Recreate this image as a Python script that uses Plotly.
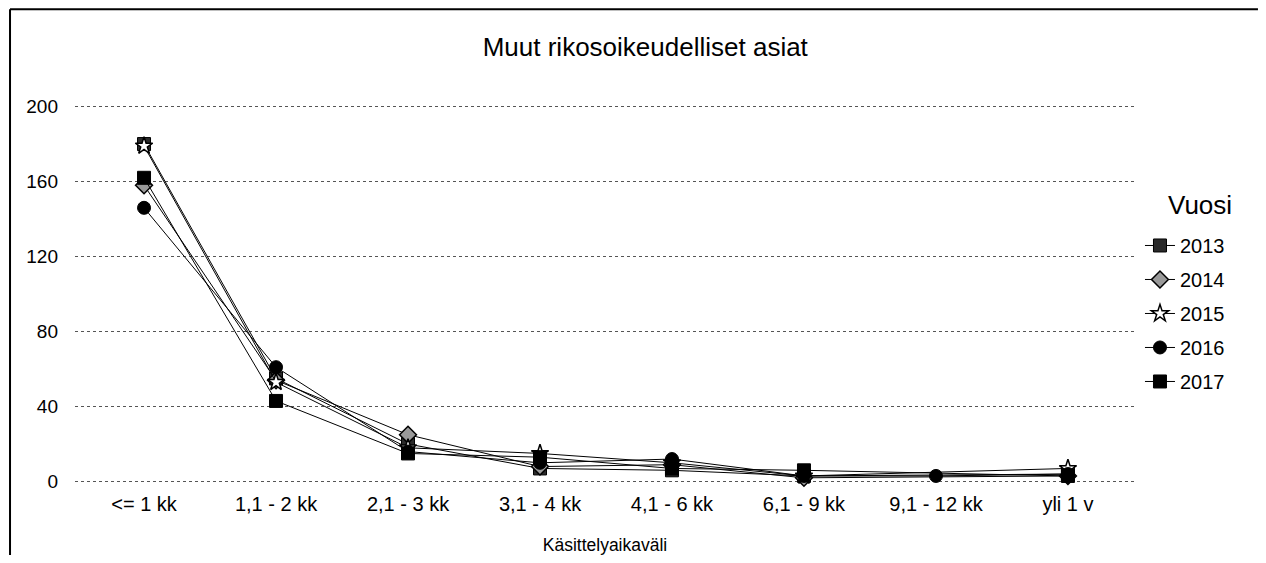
import plotly.graph_objects as go

categories = ["<= 1 kk", "1,1 - 2 kk", "2,1 - 3 kk", "3,1 - 4 kk",
              "4,1 - 6 kk", "6,1 - 9 kk", "9,1 - 12 kk", "yli 1 v"]

v2013 = [180, 55, 20, 7, 6, 3, None, 4]
v2014 = [158, 54, 25, 8, 9, 2, None, 3]
v2015 = [179, 53, 18, 15, 10, 3, None, 7]
v2016 = [146, 61, 16, 10, 12, 3, 3, 4]
v2017 = [162, 43, 15, 13, 7, 6, None, 3]

years = ["2013", "2014", "2015", "2016", "2017"]
values = [v2013, v2014, v2015, v2016, v2017]

styles = {
    "2013": dict(symbol="square", color="#2a2a2a", line=dict(color="black", width=1)),
    "2014": dict(symbol="diamond", color="#9a9a9a", line=dict(color="black", width=1.5)),
    "2015": dict(symbol="star", color="white", line=dict(color="black", width=1.5)),
    "2016": dict(symbol="circle", color="black", line=dict(color="black", width=1)),
    "2017": dict(symbol="square", color="black", line=dict(color="black", width=1)),
}

FONT = "Liberation Sans, Arial, sans-serif"

fig = go.Figure()
for yr, vals in zip(years, values):
    st = styles[yr]
    fig.add_trace(go.Scatter(
        x=categories, y=vals, name=yr, mode="lines+markers",
        legendgroup=yr, connectgaps=True,
        line=dict(color="black", width=1),
        marker=dict(symbol=st["symbol"], size=13, color=st["color"], line=st["line"]),
    ))

# page body has an 8px margin, so the figure is drawn 1250x547
fig.update_layout(
    width=1250, height=547,
    paper_bgcolor="white", plot_bgcolor="white",
    font=dict(family=FONT, color="black", size=18),
    margin=dict(l=67, r=123, t=92, b=65),
    title=dict(text="Muut rikosoikeudelliset asiat", font=dict(size=26),
               x=0.538, xref="paper", xanchor="center",
               y=1 - 39 / 547, yref="container", yanchor="middle"),
    showlegend=True,
    legend=dict(
        x=1.0047, xanchor="left", y=0.677, yanchor="top",
        font=dict(size=20), tracegroupgap=5, itemwidth=30,
        bgcolor="rgba(0,0,0,0)",
    ),
    annotations=[
        dict(text="Vuosi", xref="paper", yref="paper", x=1.061, y=0.731,
             xanchor="center", yanchor="middle", showarrow=False,
             font=dict(size=26)),
    ],
    xaxis=dict(
        range=[-0.523, 7.508], showgrid=False, zeroline=False, showline=False,
        ticks="", tickfont=dict(size=20), automargin=False,
        title=dict(text="Käsittelyaikaväli", font=dict(size=17.5), standoff=26),
    ),
    yaxis=dict(
        range=[-4.5, 203.5], tickvals=[0, 40, 80, 120, 160, 200],
        showgrid=True, gridcolor="#555", griddash="dot", gridwidth=1,
        zeroline=False, showline=False, ticks="", ticklabelstandoff=16,
        tickfont=dict(size=19),
    ),
    shapes=[
        dict(type="line", xref="paper", yref="paper", x0=-0.0613, x1=1.116,
             y0=1.233, y1=1.233, line=dict(color="black", width=2)),
        dict(type="line", xref="paper", yref="paper", x0=-0.0613, x1=-0.0613,
             y0=1.233, y1=-0.167, line=dict(color="black", width=2)),
    ],
)

fig.write_html("out.html")
